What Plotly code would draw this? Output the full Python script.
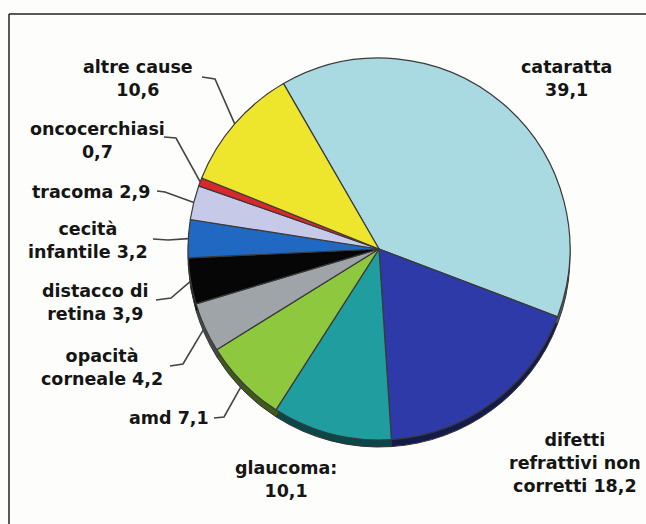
import math
import plotly.graph_objects as go

# ---- data ----
categories = ["cataratta", "difetti refrattivi non corretti", "glaucoma", "amd",
              "opacità corneale", "distacco di retina", "cecità infantile",
              "tracoma", "oncocerchiasi", "altre cause"]
values = [39.1, 18.2, 10.1, 7.1, 4.2, 3.9, 3.2, 2.9, 0.7, 10.6]
label_texts = ["cataratta<br>39,1", "difetti<br>refrattivi non<br>corretti 18,2",
               "glaucoma:<br>10,1", "amd 7,1", "opacità<br>corneale 4,2",
               "distacco di<br>retina 3,9", "cecità<br>infantile 3,2",
               "tracoma 2,9", "oncocerchiasi<br>0,7", "altre cause<br>10,6"]

# ---- styles / layout ----
colors = ["#a9d9e1", "#2d3aa8", "#1f9d9f", "#8dc83e", "#9fa4a8",
          "#060606", "#2068c2", "#c6c9e8", "#d9282c", "#eee62c"]

def darken(h, f=0.45):
    h = h.lstrip("#")
    r, g, b = (int(h[i:i + 2], 16) for i in (0, 2, 4))
    return "#%02x%02x%02x" % (int(r * f), int(g * f), int(b * f))

W, H = 646, 524
CX, CY, R = 379, 249, 191
ROT = -30
RIM = 7

# label positions (px): x, y of text centre, alignment; leader: start pt, elbow pt (None = no leader)
label_pos = [
    (566, 78, "center", None, None),
    (575, 463, "center", None, None),
    (286, 479, "center", None, None),
    (169, 418, "center", (214, 418), (224, 417)),
    (102, 367, "center", (170, 366), (183, 364)),
    (95, 302, "center", (156, 300), (171, 298)),
    (88, 240, "center", (153, 239), (168, 240)),
    (91, 192, "center", (157, 191), (165, 192)),
    (97, 140, "center", (164, 137), (176, 138)),
    (138, 78, "center", (202, 77), (215, 79)),
]

fig = go.Figure()

dom_main = dict(x=[(CX - R) / W, (CX + R) / W],
                y=[(H - CY - R) / H, (H - CY + R) / H])
dom_rim = dict(x=dom_main["x"],
               y=[(H - CY - R - RIM) / H, (H - CY + R - RIM) / H])

fig.add_trace(go.Pie(labels=categories, values=values, sort=False,
                     direction="clockwise", rotation=ROT, domain=dom_rim,
                     marker=dict(colors=[darken(c) for c in colors],
                                 line=dict(color="#333333", width=1)),
                     textinfo="none", hoverinfo="skip", showlegend=False))
fig.add_trace(go.Pie(labels=categories, values=values, sort=False,
                     direction="clockwise", rotation=ROT, domain=dom_main,
                     marker=dict(colors=colors, line=dict(color="#3a3a3a", width=1.2)),
                     textinfo="none", showlegend=False))

# invisible pixel axes for annotations / leader lines
fig.add_trace(go.Scatter(x=[0, W], y=[0, H], mode="markers",
                         marker=dict(opacity=0), hoverinfo="skip", showlegend=False))

total = sum(values)
cum = 0.0
shapes = []
annotations = []
for cat, v, txt, pos in zip(categories, values, label_texts, label_pos):
    mid = ROT + 360.0 * (cum + v / 2) / total
    cum += v
    tx, ty, al, start, elbow = pos
    annotations.append(dict(x=tx, y=ty, xref="x", yref="y", text="<b>" + txt + "</b>",
                            showarrow=False, align=al, xanchor="center", yanchor="middle",
                            font=dict(family="DejaVu Sans", size=17.5, color="#151515")))
    if start is not None:
        a = math.radians(mid)
        ex = CX + R * math.sin(a)
        ey = CY - R * math.cos(a)
        shapes.append(dict(type="path", xref="x", yref="y",
                           path=f"M {start[0]} {start[1]} L {elbow[0]} {elbow[1]} L {ex:.1f} {ey:.1f}",
                           line=dict(color="#444444", width=1.6)))

# frame
shapes.append(dict(type="line", xref="x", yref="y", x0=9, y0=14, x1=W + 5, y1=14,
                   line=dict(color="#222222", width=1.5)))
shapes.append(dict(type="line", xref="x", yref="y", x0=9, y0=14, x1=9, y1=H + 5,
                   line=dict(color="#222222", width=1.5)))

fig.update_layout(
    width=W, height=H, margin=dict(l=0, r=0, t=0, b=0),
    paper_bgcolor="#fdfdfc", plot_bgcolor="rgba(0,0,0,0)",
    xaxis=dict(range=[0, W], visible=False, fixedrange=True),
    yaxis=dict(range=[H, 0], visible=False, fixedrange=True),
    shapes=shapes, annotations=annotations, showlegend=False,
)

fig.write_html("out.html")
